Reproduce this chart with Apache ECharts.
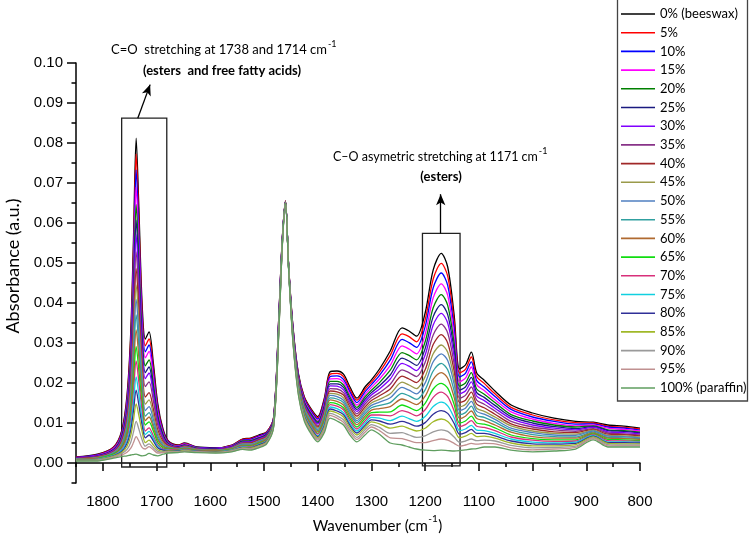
<!DOCTYPE html>
<html><head><meta charset="utf-8">
<script src="https://cdn.jsdelivr.net/npm/echarts@6/dist/echarts.min.js"></script>
<style>html,body{margin:0;padding:0;background:#fff}#c{width:750px;height:540px}</style>
</head><body><div id="c"></div>
<script>
const wavenumbers = [1850,1810,1780,1765,1755,1748,1743,1738,1733,1727,1721,1714,1706,1698,1688,1678,1660,1648,1625,1590,1560,1540,1525,1510,1495,1482,1472,1466,1460,1454,1446,1436,1425,1412,1400,1388,1377,1364,1352,1340,1327,1312,1300,1285,1265,1243,1230,1216,1200,1185,1170,1158,1146,1136,1125,1114,1104,1090,1070,1040,1000,960,920,887,860,830,800];

const s0 = [.0015,.0022,.0040,.0080,.0170,.0330,.0560,.0812,.0640,.0400,.0310,.0328,.0250,.0150,.0085,.0055,.0045,.0050,.0040,.0038,.0045,.0060,.0062,.0070,.0078,.0115,.0380,.0560,.0655,.0490,.0340,.0224,.0166,.0135,.0116,.0160,.0228,.0230,.0222,.0190,.0162,.0190,.0208,.0235,.0280,.0338,.0330,.0317,.0375,.0483,.0524,.0490,.0370,.0235,.0245,.0277,.0225,.0207,.0180,.0145,.0125,.0112,.0104,.0102,.0095,.0092,.0087];
const s5 = [.0015,.0021,.0039,.0077,.0162,.0315,.0533,.0773,.0609,.0381,.0293,.0310,.0236,.0142,.0081,.0054,.0044,.0049,.0039,.0037,.0044,.0059,.0061,.0068,.0077,.0114,.0378,.0559,.0655,.0490,.0338,.0221,.0163,.0132,.0113,.0156,.0222,.0224,.0216,.0184,.0157,.0184,.0202,.0227,.0269,.0323,.0316,.0303,.0358,.0460,.0499,.0467,.0353,.0225,.0234,.0265,.0216,.0199,.0173,.0139,.0120,.0108,.0101,.0100,.0092,.0089,.0085];
const s10 = [.0014,.0020,.0037,.0074,.0155,.0299,.0506,.0733,.0578,.0362,.0278,.0295,.0225,.0136,.0078,.0052,.0043,.0048,.0039,.0037,.0043,.0057,.0059,.0067,.0075,.0113,.0376,.0558,.0654,.0489,.0336,.0219,.0160,.0129,.0110,.0152,.0216,.0218,.0209,.0178,.0151,.0178,.0196,.0219,.0257,.0309,.0301,.0289,.0341,.0438,.0475,.0444,.0336,.0215,.0224,.0253,.0206,.0190,.0166,.0134,.0115,.0104,.0097,.0098,.0090,.0087,.0082];
const s15 = [.0013,.0019,.0036,.0070,.0146,.0282,.0476,.0690,.0544,.0341,.0263,.0279,.0213,.0129,.0075,.0050,.0042,.0047,.0038,.0036,.0042,.0056,.0057,.0065,.0073,.0111,.0374,.0557,.0654,.0488,.0334,.0216,.0157,.0125,.0106,.0147,.0210,.0211,.0202,.0171,.0145,.0171,.0189,.0210,.0244,.0293,.0285,.0273,.0322,.0413,.0448,.0419,.0317,.0203,.0212,.0240,.0196,.0181,.0158,.0128,.0110,.0099,.0093,.0095,.0087,.0084,.0080];
const s20 = [.0013,.0018,.0034,.0067,.0138,.0265,.0447,.0646,.0510,.0320,.0243,.0258,.0197,.0120,.0071,.0049,.0041,.0045,.0037,.0035,.0041,.0055,.0056,.0063,.0072,.0110,.0372,.0556,.0654,.0488,.0332,.0213,.0153,.0122,.0103,.0142,.0204,.0204,.0195,.0165,.0139,.0165,.0182,.0201,.0232,.0276,.0269,.0258,.0303,.0388,.0421,.0394,.0299,.0192,.0200,.0226,.0185,.0172,.0151,.0121,.0105,.0095,.0090,.0093,.0083,.0081,.0077];
const s25 = [.0012,.0018,.0033,.0063,.0131,.0249,.0420,.0607,.0479,.0301,.0226,.0240,.0183,.0112,.0067,.0047,.0040,.0044,.0036,.0035,.0041,.0053,.0054,.0062,.0070,.0109,.0370,.0555,.0654,.0487,.0330,.0210,.0150,.0119,.0100,.0138,.0198,.0198,.0189,.0159,.0134,.0159,.0176,.0193,.0220,.0262,.0255,.0244,.0286,.0366,.0396,.0371,.0282,.0182,.0190,.0214,.0176,.0164,.0144,.0116,.0100,.0091,.0086,.0091,.0081,.0079,.0075];
const s30 = [.0012,.0017,.0032,.0061,.0124,.0236,.0396,.0571,.0451,.0284,.0211,.0225,.0172,.0105,.0064,.0046,.0039,.0043,.0036,.0034,.0040,.0052,.0053,.0060,.0069,.0107,.0368,.0554,.0654,.0487,.0328,.0208,.0147,.0116,.0097,.0134,.0193,.0192,.0183,.0153,.0129,.0153,.0170,.0185,.0210,.0249,.0242,.0231,.0270,.0345,.0374,.0350,.0266,.0173,.0180,.0203,.0167,.0156,.0137,.0111,.0095,.0087,.0083,.0089,.0078,.0076,.0073];
const s35 = [.0011,.0016,.0030,.0057,.0115,.0218,.0366,.0528,.0417,.0263,.0191,.0203,.0156,.0096,.0059,.0044,.0038,.0042,.0035,.0033,.0039,.0051,.0051,.0059,.0067,.0106,.0366,.0553,.0653,.0486,.0326,.0205,.0144,.0112,.0093,.0129,.0186,.0185,.0176,.0147,.0123,.0147,.0163,.0176,.0197,.0233,.0226,.0216,.0252,.0320,.0347,.0325,.0248,.0162,.0169,.0190,.0157,.0147,.0130,.0104,.0090,.0083,.0079,.0086,.0075,.0073,.0070];
const s40 = [.0011,.0015,.0028,.0054,.0107,.0202,.0337,.0486,.0384,.0242,.0165,.0176,.0135,.0084,.0054,.0043,.0037,.0041,.0034,.0033,.0038,.0049,.0050,.0057,.0066,.0105,.0364,.0552,.0653,.0486,.0324,.0202,.0141,.0109,.0090,.0125,.0180,.0178,.0170,.0140,.0117,.0140,.0156,.0168,.0185,.0217,.0210,.0201,.0233,.0296,.0321,.0300,.0230,.0151,.0157,.0177,.0147,.0138,.0122,.0098,.0085,.0078,.0076,.0084,.0072,.0071,.0068];
const s45 = [.0010,.0014,.0027,.0050,.0099,.0186,.0309,.0445,.0352,.0222,.0147,.0158,.0121,.0076,.0050,.0041,.0036,.0040,.0034,.0032,.0037,.0048,.0048,.0055,.0064,.0103,.0361,.0551,.0653,.0485,.0321,.0199,.0138,.0106,.0087,.0121,.0174,.0172,.0163,.0134,.0111,.0134,.0150,.0159,.0173,.0202,.0195,.0186,.0216,.0273,.0295,.0277,.0212,.0140,.0146,.0165,.0137,.0129,.0115,.0093,.0080,.0074,.0072,.0082,.0069,.0068,.0065];
const s50 = [.0010,.0013,.0026,.0047,.0093,.0172,.0285,.0409,.0324,.0205,.0131,.0141,.0109,.0069,.0046,.0040,.0035,.0039,.0033,.0031,.0036,.0047,.0047,.0054,.0063,.0102,.0360,.0550,.0652,.0485,.0320,.0196,.0135,.0103,.0084,.0117,.0169,.0166,.0157,.0129,.0106,.0129,.0144,.0152,.0163,.0189,.0182,.0173,.0200,.0253,.0273,.0256,.0197,.0131,.0137,.0154,.0129,.0122,.0109,.0087,.0076,.0070,.0069,.0080,.0067,.0066,.0063];
const s55 = [.0009,.0013,.0024,.0044,.0085,.0156,.0258,.0370,.0293,.0186,.0117,.0126,.0097,.0062,.0043,.0038,.0034,.0038,.0032,.0031,.0036,.0045,.0045,.0052,.0061,.0101,.0358,.0549,.0652,.0484,.0318,.0194,.0132,.0100,.0081,.0112,.0163,.0160,.0151,.0123,.0101,.0123,.0138,.0144,.0151,.0174,.0168,.0159,.0183,.0230,.0249,.0233,.0180,.0121,.0126,.0142,.0119,.0114,.0102,.0082,.0071,.0066,.0065,.0077,.0064,.0063,.0061];
const s60 = [.0009,.0012,.0023,.0041,.0078,.0142,.0233,.0333,.0264,.0169,.0106,.0115,.0089,.0058,.0041,.0037,.0034,.0037,.0032,.0030,.0035,.0044,.0044,.0051,.0060,.0100,.0356,.0548,.0652,.0484,.0316,.0191,.0129,.0097,.0078,.0109,.0158,.0154,.0145,.0117,.0096,.0117,.0132,.0136,.0141,.0160,.0154,.0146,.0167,.0209,.0226,.0212,.0164,.0111,.0117,.0130,.0111,.0106,.0095,.0077,.0066,.0062,.0062,.0075,.0062,.0061,.0059];
const s65 = [.0008,.0011,.0022,.0038,.0070,.0125,.0204,.0291,.0231,.0148,.0095,.0103,.0080,.0052,.0038,.0035,.0033,.0036,.0031,.0029,.0034,.0043,.0042,.0049,.0058,.0099,.0354,.0547,.0652,.0483,.0314,.0188,.0126,.0093,.0074,.0104,.0151,.0148,.0138,.0111,.0090,.0111,.0126,.0127,.0128,.0145,.0139,.0131,.0149,.0185,.0199,.0187,.0146,.0100,.0105,.0117,.0100,.0097,.0088,.0070,.0061,.0058,.0058,.0073,.0059,.0058,.0056];
const s70 = [.0008,.0010,.0020,.0035,.0063,.0111,.0180,.0255,.0203,.0131,.0080,.0088,.0068,.0046,.0035,.0034,.0032,.0035,.0030,.0029,.0033,.0042,.0041,.0047,.0057,.0097,.0352,.0546,.0652,.0483,.0312,.0186,.0123,.0091,.0072,.0100,.0146,.0142,.0133,.0105,.0085,.0105,.0120,.0120,.0118,.0131,.0126,.0118,.0133,.0164,.0177,.0166,.0130,.0091,.0096,.0106,.0092,.0089,.0081,.0065,.0057,.0054,.0055,.0071,.0056,.0055,.0054];
const s75 = [.0007,.0009,.0019,.0032,.0055,.0096,.0153,.0215,.0171,.0111,.0071,.0079,.0061,.0042,.0033,.0032,.0031,.0033,.0029,.0028,.0032,.0040,.0039,.0046,.0055,.0096,.0350,.0545,.0651,.0482,.0310,.0183,.0120,.0087,.0068,.0096,.0140,.0136,.0126,.0099,.0080,.0099,.0114,.0112,.0106,.0117,.0111,.0104,.0116,.0141,.0152,.0143,.0113,.0081,.0085,.0094,.0082,.0081,.0074,.0060,.0052,.0050,.0052,.0069,.0053,.0053,.0052];
const s80 = [.0007,.0008,.0018,.0029,.0049,.0083,.0130,.0182,.0145,.0095,.0063,.0070,.0055,.0038,.0032,.0031,.0030,.0032,.0029,.0028,.0031,.0039,.0038,.0045,.0054,.0095,.0348,.0544,.0651,.0482,.0308,.0181,.0117,.0085,.0066,.0092,.0135,.0130,.0121,.0094,.0075,.0094,.0108,.0105,.0097,.0104,.0099,.0092,.0101,.0122,.0131,.0124,.0099,.0072,.0076,.0084,.0074,.0074,.0068,.0055,.0048,.0047,.0049,.0067,.0051,.0051,.0050];
const s85 = [.0007,.0008,.0017,.0026,.0042,.0069,.0107,.0148,.0119,.0079,.0051,.0057,.0045,.0033,.0029,.0030,.0029,.0032,.0028,.0027,.0031,.0038,.0037,.0043,.0053,.0094,.0346,.0543,.0651,.0482,.0306,.0179,.0115,.0082,.0063,.0089,.0130,.0125,.0115,.0089,.0070,.0089,.0103,.0098,.0087,.0092,.0086,.0080,.0087,.0103,.0110,.0104,.0084,.0063,.0067,.0074,.0066,.0067,.0062,.0050,.0043,.0043,.0046,.0065,.0049,.0048,.0048];
const s90 = [.0006,.0007,.0015,.0023,.0034,.0052,.0077,.0104,.0085,.0058,.0042,.0048,.0038,.0029,.0027,.0028,.0028,.0030,.0028,.0026,.0030,.0037,.0035,.0041,.0051,.0093,.0344,.0542,.0651,.0481,.0304,.0176,.0111,.0079,.0060,.0084,.0124,.0118,.0108,.0083,.0064,.0083,.0096,.0089,.0074,.0076,.0070,.0064,.0068,.0078,.0083,.0079,.0065,.0052,.0055,.0060,.0056,.0057,.0055,.0044,.0038,.0039,.0042,.0063,.0046,.0045,.0045];
const s95 = [.0006,.0006,.0014,.0020,.0027,.0037,.0051,.0066,.0055,.0039,.0035,.0041,.0033,.0025,.0026,.0027,.0027,.0029,.0027,.0026,.0029,.0035,.0034,.0040,.0050,.0091,.0342,.0541,.0650,.0481,.0302,.0173,.0108,.0076,.0057,.0080,.0119,.0112,.0102,.0077,.0059,.0077,.0090,.0081,.0063,.0061,.0056,.0051,.0051,.0056,.0060,.0057,.0049,.0042,.0045,.0049,.0047,.0049,.0048,.0038,.0033,.0035,.0039,.0061,.0043,.0043,.0043];
const s100 = [.0005,.0005,.0012,.0016,.0018,.0020,.0021,.0022,.0020,.0018,.0019,.0024,.0020,.0018,.0022,.0025,.0026,.0028,.0026,.0025,.0028,.0034,.0032,.0038,.0048,.0090,.0340,.0540,.0650,.0480,.0300,.0170,.0105,.0072,.0053,.0075,.0112,.0105,.0095,.0070,.0053,.0070,.0083,.0072,.0050,.0045,.0040,.0035,.0032,.0031,.0032,.0031,.0030,.0031,.0033,.0035,.0036,.0040,.0040,.0032,.0028,.0030,.0035,.0058,.0040,.0040,.0040];

const seriesValues = [s0,s5,s10,s15,s20,s25,s30,s35,s40,s45,s50,s55,s60,s65,s70,s75,s80,s85,s90,s95,s100];
const seriesNames = ['0% (beeswax)','5%','10%','15%','20%','25%','30%','35%','40%','45%','50%','55%','60%','65%','70%','75%','80%','85%','90%','95%','100% (paraffin)'];
const seriesColors = ['#000000','#ff0000','#0000ff','#ff00ff','#008000','#1a1a80','#8000ff','#883388','#a02828','#9a9a4a','#4f7fc0','#30a0a0','#b06a30','#10dd10','#d8307a','#10d0e0','#303098','#a0b828','#9a9a9a','#c09090','#5f9e5f'];

const xTickValues = [1800,1700,1600,1500,1400,1300,1200,1100,1000,900,800];
const xMinorValues = [1850,1750,1650,1550,1450,1350,1250,1150,1050,950,850];
const yTickValues = [0,0.01,0.02,0.03,0.04,0.05,0.06,0.07,0.08,0.09,0.10];
const yMinorValues = [-0.005,0.005,0.015,0.025,0.035,0.045,0.055,0.065,0.075,0.085,0.095];

// annotation boxes and arrows (data coordinates)
const boxes = [[[1765,0.0862],[1681,-0.001]],[[1205,0.0574],[1135,-0.0007]]];
const arrows = [[[1735,0.0862],[1712,0.0946]],[[1171,0.0574],[1171,0.0672]]];

const chart = echarts.init(document.getElementById('c'), null, {renderer:'canvas'});
const LAT = 'Lato';
const cv = document.createElement('canvas').getContext('2d');
function tw(str, font){ cv.font = font; return cv.measureText(str).width; }

const series = seriesValues.map((vals,i)=>({
  type:'line', name:seriesNames[i], symbol:'none', smooth:0.3,
  data: wavenumbers.map((w,j)=>[w, vals[j]]),
  lineStyle:{width:1.3,color:seriesColors[i]}, itemStyle:{color:seriesColors[i]},
  emphasis:{disabled:true}, silent:true
}));
series.push({
  type:'line', name:'annot', data:[], silent:true,
  markArea:{silent:true, itemStyle:{color:'rgba(0,0,0,0)', borderColor:'#222', borderWidth:1.3},
    label:{show:false},
    data: boxes.map(b=>[{coord:b[0]},{coord:b[1]}])},
  markLine:{silent:true, symbol:['none','arrow'], symbolSize:[7,11], animation:false,
    lineStyle:{color:'#000', width:1.3, type:'solid'}, label:{show:false},
    data: arrows.map(a=>[{coord:a[0]},{coord:a[1]}])}
});

const f1 = '13px Lato', f1b = 'bold 13px Lato', fsup = '9px Lato', fax = '15px Lato';
const t1 = 'C=O  stretching at 1738 and 1714 cm';
const t2 = 'C\u2013O asymetric stretching at 1171 cm';
const xn = 'Wavenumber (cm';
const xnW = tw(xn, fax) + tw('-1', '10px Lato') + tw(')', fax);
const xnLeft = 377 - xnW/2;

const graphic = [
  {type:'rect', shape:{x:617.5, y:-1, width:130, height:402}, style:{fill:'none', stroke:'#444', lineWidth:1.3}},
  {type:'text', x:111, y:50, style:{text:t1, font:f1, fill:'#000', textVerticalAlign:'middle'}},
  {type:'text', x:111+tw(t1,f1)+1, y:44, style:{text:'-1', font:fsup, fill:'#000', textVerticalAlign:'middle'}},
  {type:'text', x:222, y:71, style:{text:'(esters  and free fatty acids)', font:f1b, fill:'#000', textAlign:'center', textVerticalAlign:'middle'}},
  {type:'text', x:333, y:157, style:{text:t2, font:'12.5px Lato', fill:'#000', textVerticalAlign:'middle'}},
  {type:'text', x:333+tw(t2,'12.5px Lato')+1, y:151, style:{text:'-1', font:fsup, fill:'#000', textVerticalAlign:'middle'}},
  {type:'text', x:441, y:177, style:{text:'(esters)', font:f1b, fill:'#000', textAlign:'center', textVerticalAlign:'middle'}},
  {type:'text', x:xnLeft, y:526, style:{text:xn, font:fax, fill:'#000', textVerticalAlign:'middle'}},
  {type:'text', x:xnLeft+tw(xn,fax)+0.5, y:519, style:{text:'-1', font:'10px Lato', fill:'#000', textVerticalAlign:'middle'}},
  {type:'text', x:xnLeft+tw(xn,fax)+tw('-1','10px Lato')+1, y:526, style:{text:')', font:fax, fill:'#000', textVerticalAlign:'middle'}},
  {type:'text', x:13, y:266, rotation:Math.PI/2, style:{text:'Absorbance (a.u.)', font:'18px Lato', fill:'#000', textAlign:'center', textVerticalAlign:'middle'}}
];

const axisBase = {type:'value', splitLine:{show:false}};
const option = {
  animation:false,
  color: seriesColors,
  grid:{left:76, right:110, top:63, bottom:57, containLabel:false},
  legend:{
    data: seriesNames, orient:'vertical', left:621, top:7.5, padding:0,
    icon:'rect', itemWidth:34, itemHeight:1.6, itemGap:5.7, selectedMode:false,
    textStyle:{fontFamily:LAT, fontSize:13, color:'#000'}
  },
  xAxis:[
    Object.assign({}, axisBase, {min:800, max:1850, inverse:true, position:'bottom',
      axisLine:{show:true, lineStyle:{color:'#000', width:1.5}},
      axisTick:{show:true, length:8, customValues:xTickValues, lineStyle:{color:'#000', width:1.5}},
      axisLabel:{customValues:xTickValues, formatter:v=>String(v), fontFamily:'Liberation Sans', fontSize:15, color:'#000', margin:11}}),
    Object.assign({}, axisBase, {min:800, max:1850, inverse:true, position:'bottom',
      axisLine:{show:false},
      axisTick:{show:true, length:4, customValues:xMinorValues, lineStyle:{color:'#000', width:1.5}},
      axisLabel:{show:false}})
  ],
  yAxis:[
    Object.assign({}, axisBase, {min:-0.005, max:0.10, position:'left',
      axisLine:{show:true, lineStyle:{color:'#000', width:1.5}},
      axisTick:{show:true, length:9, customValues:yTickValues, lineStyle:{color:'#000', width:1.5}},
      axisLabel:{customValues:yTickValues, formatter:v=>v.toFixed(2), fontFamily:'Liberation Sans', fontSize:15, color:'#000', margin:13}}),
    Object.assign({}, axisBase, {min:-0.005, max:0.10, position:'left',
      axisLine:{show:false},
      axisTick:{show:true, length:4.5, customValues:yMinorValues, lineStyle:{color:'#000', width:1.5}},
      axisLabel:{show:false}})
  ],
  series: series,
  graphic: graphic
};
chart.setOption(option);
</script></body></html>
